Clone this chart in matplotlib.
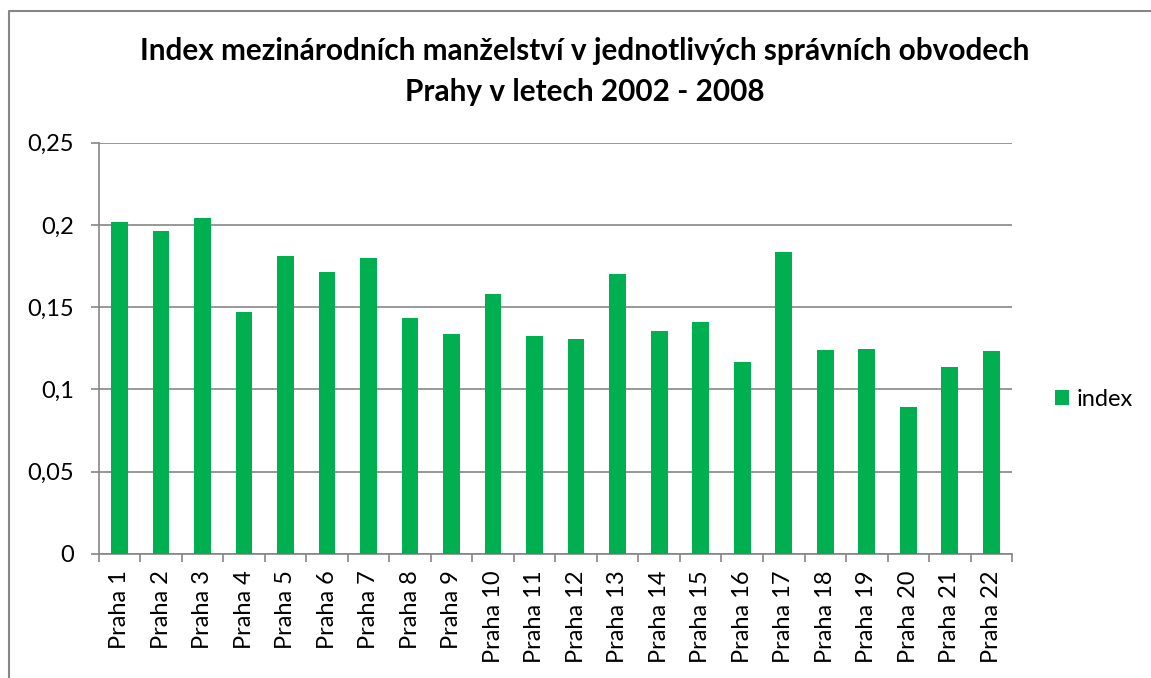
import matplotlib
matplotlib.use('Agg')
import matplotlib.pyplot as plt
from matplotlib.lines import Line2D
from matplotlib.ticker import FixedLocator, FuncFormatter

FONT = 'Lato'
plt.rcParams['font.family'] = [FONT, 'DejaVu Sans']

# data
obvody = [f'Praha {i}' for i in range(1, 23)]
index = [0.2017, 0.1965, 0.2040, 0.1472, 0.1813, 0.1715, 0.1798, 0.1431,
         0.1336, 0.1579, 0.1324, 0.1304, 0.1703, 0.1354, 0.1409, 0.1164,
         0.1833, 0.1239, 0.1243, 0.0894, 0.1133, 0.1235]
y_ticks = [0, 0.05, 0.1, 0.15, 0.2, 0.25]

title = ('Index mezinárodních manželství v jednotlivých správních obvodech\n'
         'Prahy v letech 2002 - 2008')

GREEN = '#00B050'
GREY = '#868686'

fig = plt.figure(figsize=(11.51, 6.78), dpi=100)
ax = fig.add_axes([0.0858, 0.1833, 0.7935, 0.6062])

x = list(range(len(obvody)))
ax.bar(x, index, width=0.4, color=GREEN, label='index', zorder=3)

ax.set_xlim(-0.5, len(obvody) - 0.5)
ax.set_ylim(0, 0.25)
ax.yaxis.set_major_locator(FixedLocator(y_ticks))
ax.yaxis.set_major_formatter(FuncFormatter(lambda v, p: f'{v:g}'.replace('.', ',')))
ax.grid(axis='y', color=GREY, linewidth=1.2, zorder=0)

ax.set_xticks(x)
ax.set_xticklabels(obvody, rotation=90, va='top', ha='center')
ax.set_xticks([i - 0.5 for i in range(len(obvody) + 1)], minor=True)
ax.tick_params(axis='x', which='major', length=0, pad=12, labelsize=17)
ax.tick_params(axis='x', which='minor', length=6, width=1.2, color=GREY, direction='out')
ax.tick_params(axis='y', length=6, width=1.2, color=GREY, pad=12, labelsize=17)

for s in ['top', 'right']:
    ax.spines[s].set_visible(False)
for s in ['left', 'bottom']:
    ax.spines[s].set_color(GREY)
    ax.spines[s].set_linewidth(1.2)

fig.text(0.508, 0.945, title, ha='center', va='top', fontsize=21.4,
         fontweight='bold', linespacing=1.55)

leg = ax.legend(loc='center left', bbox_to_anchor=(0.9166, 0.4115),
                bbox_transform=fig.transFigure, frameon=False, fontsize=17,
                borderaxespad=0, borderpad=0,
                handlelength=0.6, handleheight=0.6, handletextpad=0.3)

# outer chart border (left and top edges visible)
fig.add_artist(Line2D([9 / 1151, 9 / 1151, 1.0], [0.0, 1 - 11 / 678, 1 - 11 / 678],
                      transform=fig.transFigure, color=GREY, linewidth=1.5))

fig.savefig('out.png', dpi=100)
